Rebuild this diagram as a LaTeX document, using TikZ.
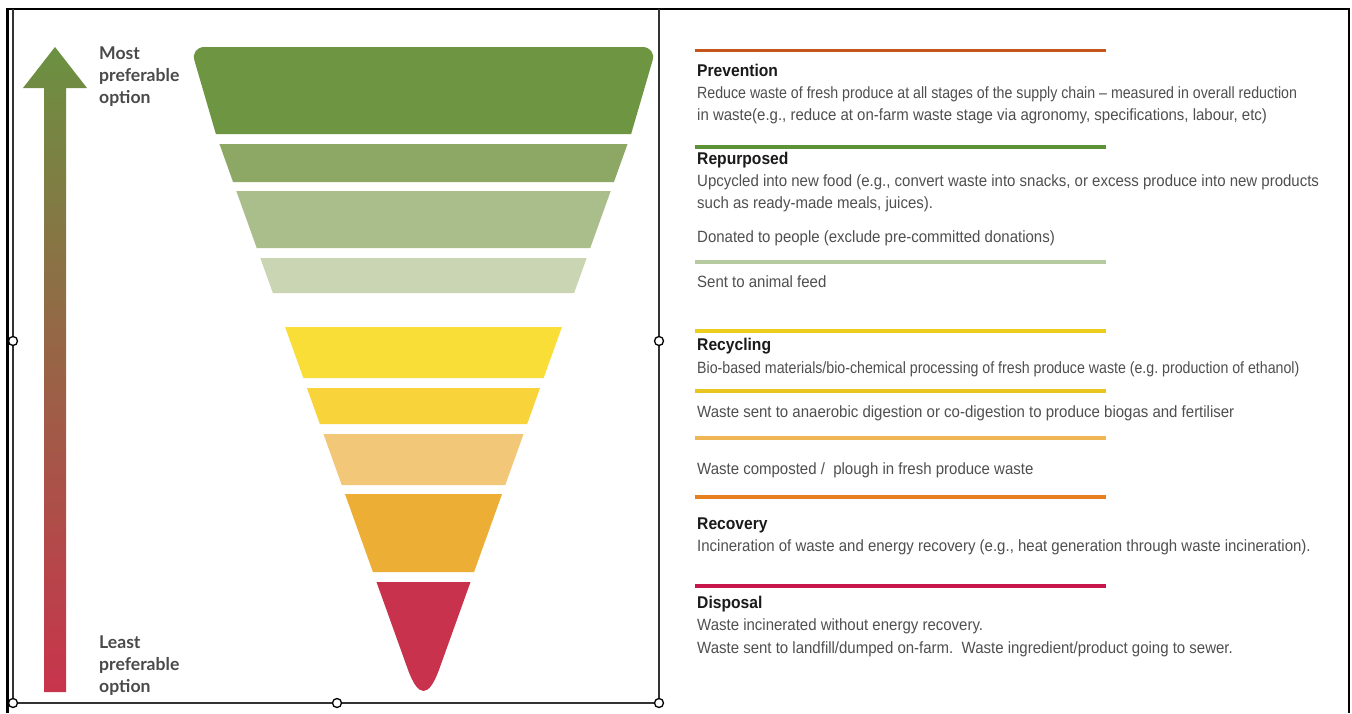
\documentclass[tikz,border=0pt]{standalone}
\usepackage{fontspec}
\usepackage{tikz}
\usetikzlibrary{calc}
\setmainfont{Liberation Sans}
\newfontfamily\narrowfont{Liberation Sans}[FakeStretch=0.92]
\newfontfamily\tightfont{Liberation Sans}[FakeStretch=0.87]
\newfontfamily\headfont{Liberation Sans}[FakeStretch=0.92]
\newfontfamily\sidefont{Lato}
\frenchspacing
\definecolor{tierA}{HTML}{6E9642}
\definecolor{tierB}{HTML}{8DA865}
\definecolor{tierC}{HTML}{A9BE8A}
\definecolor{tierD}{HTML}{C9D5B3}
\definecolor{tierE}{HTML}{F9DE38}
\definecolor{tierF}{HTML}{F8D33A}
\definecolor{tierG}{HTML}{F2C778}
\definecolor{tierH}{HTML}{ECAE34}
\definecolor{tierI}{HTML}{C9324D}
\definecolor{rulerust}{HTML}{C4561C}
\definecolor{rulegreen}{HTML}{5E9236}
\definecolor{rulesage}{HTML}{B5CA9E}
\definecolor{ruleyellow}{HTML}{EDCD1B}
\definecolor{rulegold}{HTML}{E9C51F}
\definecolor{rulepeach}{HTML}{F0B555}
\definecolor{ruleorange}{HTML}{E6801F}
\definecolor{rulecrimson}{HTML}{C8154A}
\definecolor{arrowgreen}{HTML}{6B9141}
\definecolor{arrowbrown}{HTML}{A67A50}
\definecolor{arrowred}{HTML}{C8344C}
\definecolor{headink}{HTML}{1A1A1A}
\definecolor{bodygray}{HTML}{4F4F4F}
\definecolor{sidegray}{HTML}{4A4A4A}
\tikzset{
  framebar/.style={draw=black, line width=2.5pt},
  selbox/.style={draw=black!80, line width=1.2pt},
  handle/.style={
    circle, draw=black, fill=white, line width=1.3pt,
    minimum size=9pt, inner sep=0pt
  },
  rulebar/.style={line width=3.2pt},
  tierhead/.style={
    anchor=base west, inner sep=0pt, text=headink,
    font=\headfont\bfseries\fontsize{17}{21}\selectfont
  },
  tiertext/.style={
    anchor=base west, inner sep=0pt, align=left, text=bodygray,
    font=\narrowfont\fontsize{16.3}{22.3}\selectfont
  },
  sidelabel/.style={
    anchor=base west, inner sep=0pt, align=left, text=sidegray,
    font=\sidefont\bfseries\fontsize{17.6}{21.9}\selectfont
  }
}

\begin{document}
\begin{tikzpicture}[x=1pt,y=-1pt]
  \useasboundingbox (0,0) rectangle (1352,713);
  \fill[white] (0,0) rectangle (1352,713);
  \def\cx{423.5}
  \def\apex{713}
  \def\k{0.3586}

  \draw[framebar] (7.5,713) -- (7.5,9) -- (1349,9) -- (1349,713);
  \draw[selbox] (13,9) -- (13,703) -- (659,703) -- (659,9);

  % preference arrow
  \shade[top color=arrowgreen, middle color=arrowbrown, bottom color=arrowred]
    (55,47) -- (87,88) -- (66,88) -- (66,692) -- (44,692) -- (44,88) -- (23,88) -- cycle;
  % multi-line nodes sit on the baseline of their last line
  \node[sidelabel] (most) at (99,103.3) {Most\\preferable\\option};
  \node[sidelabel] (least) at (99,692) {Least\\preferable\\option};

  % funnel tiers
  \fill[tierA] ({\cx-\k*(\apex-134)},134) [rounded corners=14pt]
    -- ({\cx-233},47) -- ({\cx+233},47) [sharp corners]
    -- ({\cx+\k*(\apex-134)},134) -- cycle;
  \foreach \t/\b/\c in {144/182/tierB, 191/248/tierC, 258/293/tierD,
      327/378/tierE, 388/424/tierF, 434/485/tierG, 494/572/tierH}
    \fill[\c] ({\cx-\k*(\apex-\t)},\t) -- ({\cx+\k*(\apex-\t)},\t)
      -- ({\cx+\k*(\apex-\b)},\b) -- ({\cx-\k*(\apex-\b)},\b) -- cycle;
  \fill[tierI] ({\cx-47},582) -- ({\cx+47},582) -- ({\cx+15.8},669)
    .. controls ({\cx+5.27},698.3) and ({\cx-5.27},698.3) .. ({\cx-15.8},669) -- cycle;

  % legend rules
  \foreach \y/\c in {50.7/rulerust, 147/rulegreen, 262/rulesage, 331/ruleyellow,
      391/rulegold, 438/rulepeach, 497/ruleorange, 586/rulecrimson}
    \draw[rulebar, \c] (695,\y) -- (1106,\y);

  \node[tierhead] (prevention) at (697,76) {Prevention};
  \node[tiertext] (preventtext) at (697,120.6) {{\tightfont Reduce waste of fresh produce at all stages of the supply chain – measured in overall reduction}\\in waste(e.g., reduce at on-farm waste stage via agronomy, specifications, labour, etc)};
  \node[tierhead] (repurposed) at (697,164.3) {Repurposed};
  \node[tiertext] (upcycled) at (697,208.3) {Upcycled into new food (e.g., convert waste into snacks, or excess produce into new products\\such as ready-made meals, juices).};
  \node[tiertext] (donated) at (697,242.7) {Donated to people (exclude pre-committed donations)};
  \node[tiertext] (feed) at (697,287) {Sent to animal feed};
  \node[tierhead] (recycling) at (697,350.7) {Recycling};
  \node[tiertext] (biobased) at (697,373) {\tightfont Bio-based materials/bio-chemical processing of fresh produce waste (e.g. production of ethanol)};
  \node[tiertext] (digestion) at (697,417.7) {Waste sent to anaerobic digestion or co-digestion to produce biogas and fertiliser};
  \node[tiertext] (compost) at (697,474) {Waste composted /\ \ plough in fresh produce waste};
  \node[tierhead] (recovery) at (697,529) {Recovery};
  \node[tiertext] (incinerate) at (697,551.7) {Incineration of waste and energy recovery (e.g., heat generation through waste incineration).};
  \node[tierhead] (disposal) at (697,608.7) {Disposal};
  \node[tiertext] (landfill) at (697,653) {Waste incinerated without energy recovery.\\Waste sent to landfill/dumped on-farm.\ \ Waste ingredient/product going to sewer.};

  \node[handle] (hleft) at (13,341) {};
  \node[handle] (hright) at (659,341) {};
  \node[handle] (hbl) at (13,703) {};
  \node[handle] (hbm) at (337,703) {};
  \node[handle] (hbr) at (659,703) {};
\end{tikzpicture}
\end{document}
